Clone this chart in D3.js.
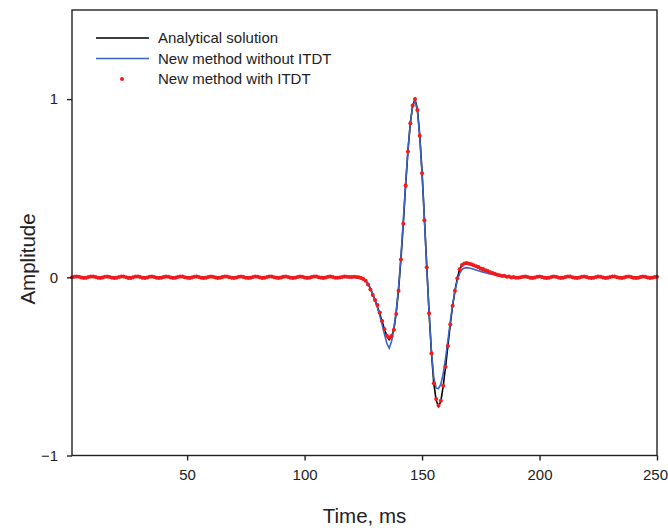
<!DOCTYPE html>
<html><head><meta charset="utf-8">
<script src="https://cdn.jsdelivr.net/npm/d3@7"></script>
<style>body{margin:0;background:#fff;} text{font-family:"Liberation Sans",Arial,sans-serif;}</style>
</head><body><svg id="c" width="668" height="528"></svg>
<script>
// ---- data ----
const xTicks = [50, 100, 150, 200, 250];
const yTicks = [-1, 0, 1];
const seriesNames = ["Analytical solution", "New method without ITDT", "New method with ITDT"];

// Analytical solution (time in ms, amplitude)
const analyticTime = [1,120,121,122,123,124,125,126,127,128,129,130,131,132,133,134,135,136,137,138,139,140,141,142,143,144,145,146,147,148,149,150,151,152,153,154,155,156,157,158,159,160,161,162,163,164,165,166,167,168,169,170,171,172,173,174,175,176,177,178,179,180,181,182,183,184,185,186,187,188,189,190,250];
const analyticAmp = [0,0,0,0,-0.002,-0.005,-0.010,-0.020,-0.038,-0.062,-0.095,-0.130,-0.165,-0.205,-0.248,-0.292,-0.330,-0.350,-0.335,-0.290,-0.200,-0.070,0.100,0.300,0.515,0.710,0.865,0.965,1.000,0.945,0.800,0.590,0.330,0.060,-0.200,-0.425,-0.595,-0.690,-0.725,-0.695,-0.610,-0.502,-0.385,-0.265,-0.160,-0.075,-0.006,0.045,0.068,0.077,0.077,0.074,0.069,0.064,0.058,0.052,0.046,0.040,0.035,0.030,0.025,0.021,0.017,0.014,0.011,0.008,0.006,0.004,0.003,0.002,0.001,0,0];

// New method without ITDT
const noItdtTime = analyticTime;
const noItdtAmp = [0,0,0,0,0,0,-0.008,-0.018,-0.035,-0.060,-0.093,-0.130,-0.170,-0.215,-0.265,-0.318,-0.370,-0.398,-0.360,-0.290,-0.190,-0.055,0.115,0.315,0.525,0.715,0.865,0.960,0.990,0.935,0.790,0.580,0.325,0.055,-0.200,-0.415,-0.565,-0.622,-0.625,-0.600,-0.540,-0.455,-0.355,-0.250,-0.155,-0.078,-0.018,0.022,0.043,0.052,0.054,0.052,0.049,0.045,0.041,0.037,0.033,0.029,0.025,0.022,0.019,0.016,0.013,0.011,0.009,0.007,0.005,0.004,0.003,0.002,0.001,0,0];

// New method with ITDT, sampled every 1 ms from t = 1 ms to 250 ms
const itdtAmp = [
 0.000,0.003,0.005,0.003,-0.001,-0.004,-0.003,0.001,0.004,0.004,
 0.001,-0.003,-0.004,-0.001,0.003,0.005,0.002,-0.002,-0.004,-0.002,
 0.002,0.004,0.004,0.000,-0.004,-0.004,0.000,0.004,0.004,0.001,
 -0.003,-0.004,-0.001,0.003,0.005,0.002,-0.002,-0.004,-0.002,0.002,
 0.004,0.003,-0.001,-0.004,-0.003,0.001,0.004,0.004,0.000,-0.003,
 -0.004,-0.001,0.003,0.004,0.002,-0.002,-0.004,-0.002,0.002,0.004,
 0.003,-0.001,-0.004,-0.003,0.001,0.004,0.004,0.000,-0.003,-0.004,
 -0.001,0.003,0.004,0.002,-0.002,-0.004,-0.002,0.002,0.004,0.003,
 -0.001,-0.004,-0.003,0.001,0.004,0.004,0.000,-0.003,-0.004,-0.001,
 0.003,0.004,0.002,-0.002,-0.004,-0.002,0.002,0.004,0.003,-0.001,
 -0.004,-0.003,0.001,0.004,0.004,0.000,-0.003,-0.004,-0.001,0.003,
 0.004,0.002,-0.002,-0.003,-0.001,0.002,0.004,0.003,0.001,
 0.002,0.003,0.002,0.000,-0.004,
 -0.010,-0.020,-0.040,-0.068,-0.100,-0.128,-0.155,-0.198,-0.245,-0.290,
 -0.327,-0.338,-0.329,-0.295,-0.206,-0.075,0.100,0.300,0.515,0.706,
 0.864,0.964,1.000,0.939,0.795,0.584,0.320,0.056,-0.202,-0.426,
 -0.594,-0.683,-0.719,-0.693,-0.609,-0.502,-0.385,-0.265,-0.159,-0.075,
 -0.006,0.045,0.069,0.078,
 0.080,0.076,0.073,0.068,0.062,0.058,0.050,0.046,0.040,0.036,
 0.028,0.024,0.020,0.014,0.012,0.007,0.008,0.003,0.004,-0.001,
 0.002,-0.002,
 -0.003,0.000,0.003,0.004,0.001,-0.003,-0.004,-0.001,0.003,0.004,
 0.002,-0.002,-0.004,-0.002,0.002,0.004,0.003,-0.001,-0.004,-0.003,
 0.001,0.004,0.004,0.000,-0.003,-0.004,-0.001,0.003,0.004,0.002,
 -0.002,-0.004,-0.002,0.002,0.004,0.003,-0.001,-0.004,-0.003,0.001,
 0.004,0.004,0.000,-0.003,-0.004,-0.001,0.003,0.004,0.002,-0.002,
 -0.004,-0.002,0.002,0.004,0.003,-0.001,-0.004,-0.003,0.001,0.003
];
const itdtStart = 1;

// ---- chart ----
const W = 668, H = 528;
const m = {left: 72, right: 11, top: 10, bottom: 72.5};
const svg = d3.select("#c");
const x = d3.scaleLinear().domain([1, 250]).range([m.left, W - m.right]);
const y = d3.scaleLinear().domain([-1, 1.5]).range([H - m.bottom, m.top]);

const line = d3.line().x(d => x(d[0])).y(d => y(d[1]));
const analytic = analyticTime.map((t, i) => [t, analyticAmp[i]]);
const noItdt = noItdtTime.map((t, i) => [t, noItdtAmp[i]]);
const itdt = itdtAmp.map((a, i) => [itdtStart + i, a]);

svg.append("path").datum(analytic).attr("d", line)
  .attr("fill", "none").attr("stroke", "#000").attr("stroke-width", 1.6);
svg.append("path").datum(noItdt).attr("d", line)
  .attr("fill", "none").attr("stroke", "#3b62c6").attr("stroke-width", 1.6);
svg.append("g").selectAll("circle").data(itdt).join("circle")
  .attr("cx", d => x(d[0])).attr("cy", d => y(d[1])).attr("r", 2)
  .attr("fill", "#f21a1a");

// frame
svg.append("rect").attr("x", m.left).attr("y", m.top)
  .attr("width", W - m.right - m.left).attr("height", H - m.bottom - m.top)
  .attr("fill", "none").attr("stroke", "#222").attr("stroke-width", 1.4);

// axes
const xAxis = svg.append("g").attr("transform", `translate(0,${H - m.bottom})`)
  .call(d3.axisBottom(x).tickValues(xTicks).tickSize(5).tickPadding(9).tickFormat(d3.format("")));
const yAxis = svg.append("g").attr("transform", `translate(${m.left},0)`)
  .call(d3.axisLeft(y).tickValues(yTicks).tickSize(5).tickPadding(9).tickFormat(d3.format("")));
[xAxis, yAxis].forEach(g => {
  g.select(".domain").remove();
  g.selectAll("line").attr("stroke", "#222").attr("stroke-width", 1.4);
  g.selectAll("text").attr("font-size", 15).attr("fill", "#222")
    .attr("font-family", "'Liberation Sans', Arial, sans-serif");
});
// keep the last x label inside the page
xAxis.selectAll(".tick").filter(d => d === 250).select("text")
  .attr("text-anchor", "end").attr("dx", 0).attr("x", 10.5);

// axis titles
svg.append("text").attr("x", (m.left + W - m.right) / 2).attr("y", 523)
  .attr("text-anchor", "middle").attr("font-size", 20.5).attr("fill", "#222")
  .text("Time, ms");
svg.append("text").attr("transform", "translate(35,259) rotate(-90)")
  .attr("text-anchor", "middle").attr("font-size", 20.5).attr("fill", "#222")
  .text("Amplitude");

// legend
const lg = svg.append("g");
const rowsY = [38, 58.5, 79];
lg.append("line").attr("x1", 96).attr("x2", 149).attr("y1", rowsY[0]).attr("y2", rowsY[0])
  .attr("stroke", "#000").attr("stroke-width", 1.6);
lg.append("line").attr("x1", 96).attr("x2", 149).attr("y1", rowsY[1]).attr("y2", rowsY[1])
  .attr("stroke", "#3b62c6").attr("stroke-width", 1.6);
lg.append("circle").attr("cx", 122).attr("cy", rowsY[2]).attr("r", 2).attr("fill", "#f21a1a");
seriesNames.forEach((n, i) => {
  lg.append("text").attr("x", 158).attr("y", rowsY[i] + 5)
    .attr("font-size", 15).attr("fill", "#222").text(n);
});
</script></body></html>
